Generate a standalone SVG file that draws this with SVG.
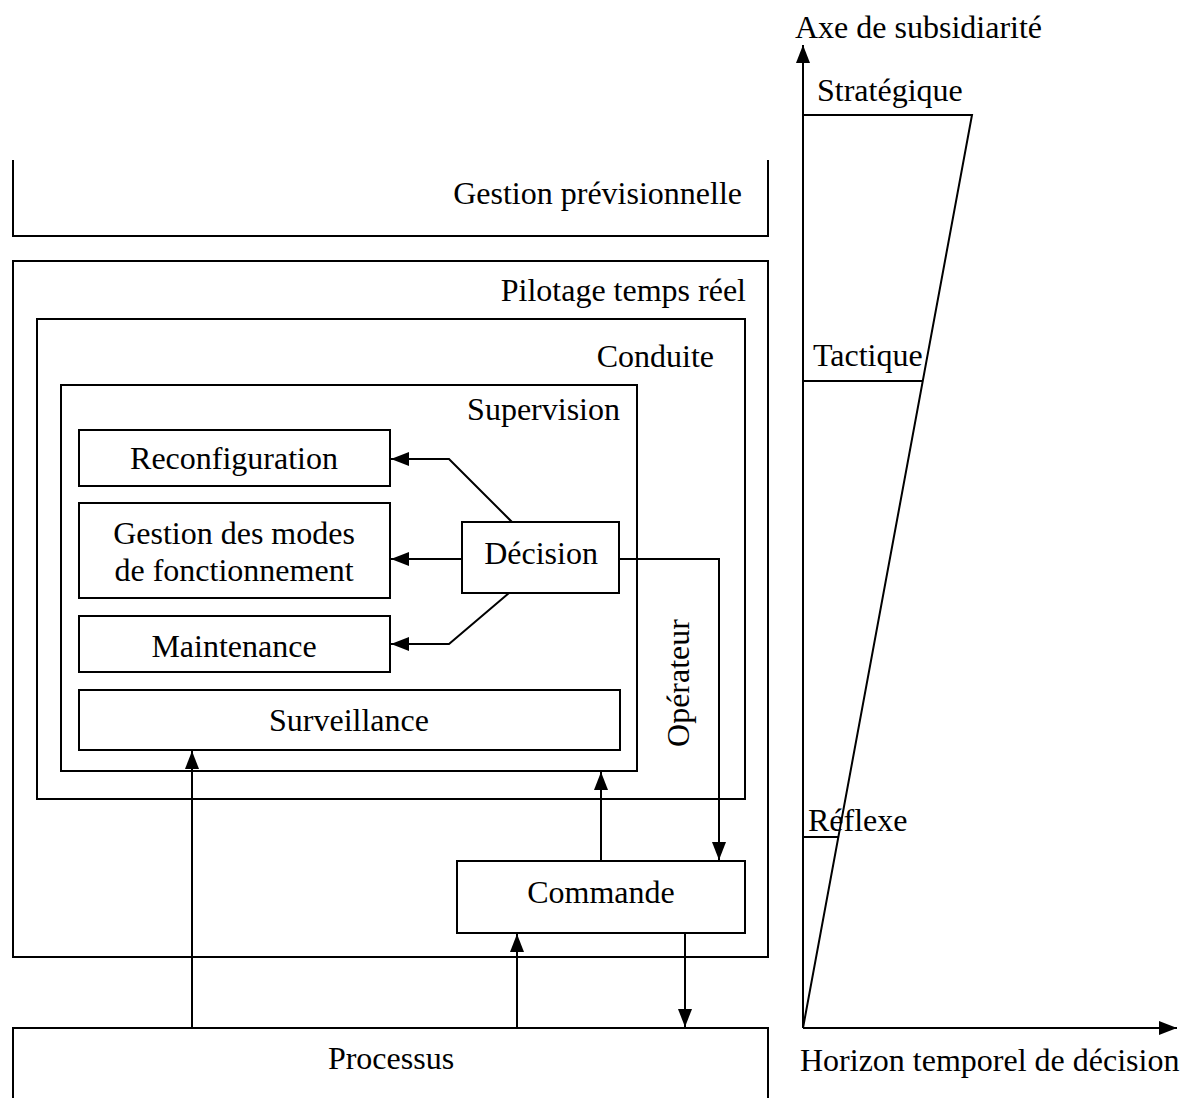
<svg xmlns="http://www.w3.org/2000/svg" width="1188" height="1098" viewBox="0 0 1188 1098">
<defs>
<style>
.b{fill:none;stroke:#000;stroke-width:2}
.l{fill:none;stroke:#000;stroke-width:2}
.t{font-family:"Liberation Serif","Times New Roman",serif;font-size:32px;fill:#000}
.m{text-anchor:middle}
.e{text-anchor:end}
</style>
<marker id="ah2" markerWidth="18" markerHeight="14" viewBox="0 0 18 14" refX="18" refY="7" orient="auto" markerUnits="userSpaceOnUse">
<path d="M0,0 L18,7 L0,14 Z" fill="#000"/>
</marker>
</defs>
<rect width="1188" height="1098" fill="#fff"/>
<g id="gestion-previsionnelle">
<path class="b" d="M13,160 V236 H768 V160"/>
<text class="t e" x="742" y="204">Gestion prévisionnelle</text>
</g>
<g id="pilotage">
<rect class="b" x="13" y="261" width="755" height="696"/>
<text class="t e" x="746" y="301">Pilotage temps réel</text>
</g>
<g id="conduite">
<rect class="b" x="37" y="319" width="708" height="480"/>
<text class="t e" x="714" y="367">Conduite</text>
</g>
<g id="supervision">
<rect class="b" x="61" y="385" width="576" height="386"/>
<text class="t e" x="620" y="420">Supervision</text>
</g>
<g id="reconfiguration">
<rect class="b" x="79" y="430" width="311" height="56"/>
<text class="t m" x="234" y="469">Reconfiguration</text>
</g>
<g id="gestion-modes">
<rect class="b" x="79" y="503" width="311" height="95"/>
<text class="t m" x="234" y="544">Gestion des modes</text>
<text class="t m" x="234" y="581">de fonctionnement</text>
</g>
<g id="maintenance">
<rect class="b" x="79" y="616" width="311" height="56"/>
<text class="t m" x="234" y="657">Maintenance</text>
</g>
<g id="surveillance">
<rect class="b" x="79" y="690" width="541" height="60"/>
<text class="t m" x="349" y="731">Surveillance</text>
</g>
<g id="decision">
<rect class="b" x="462" y="522" width="157" height="71"/>
<text class="t m" x="541" y="564">Décision</text>
</g>
<g id="operateur">
<text class="t m" transform="translate(689,683) rotate(-90)" x="0" y="0">Opérateur</text>
</g>
<g id="commande">
<rect class="b" x="457" y="861" width="288" height="72"/>
<text class="t m" x="601" y="903">Commande</text>
</g>
<g id="processus">
<path class="b" d="M13,1098 V1028 H768 V1098"/>
<text class="t m" x="391" y="1069">Processus</text>
</g>
<g id="connectors">
<path class="l" d="M512,522 L449,459 H391" marker-end="url(#ah2)"/>
<path class="l" d="M462,559 H391" marker-end="url(#ah2)"/>
<path class="l" d="M509,593 L449,644 H391" marker-end="url(#ah2)"/>
<path class="l" d="M619,559 H719 V860" marker-end="url(#ah2)"/>
<path class="l" d="M601,861 V772" marker-end="url(#ah2)"/>
<path class="l" d="M517,1028 V934" marker-end="url(#ah2)"/>
<path class="l" d="M685,933 V1027" marker-end="url(#ah2)"/>
<path class="l" d="M192,1028 V751" marker-end="url(#ah2)"/>
</g>
<g id="axes">
<path class="l" d="M803,1028 V45" marker-end="url(#ah2)"/>
<path class="l" d="M803,1028 H1177" marker-end="url(#ah2)"/>
<path class="l" d="M803,1028 L972,115 H803"/>
<path class="l" d="M803,381 H923"/>
<path class="l" d="M803,837 H838"/>
<text class="t" x="795" y="38">Axe de subsidiarité</text>
<text class="t" x="817" y="101">Stratégique</text>
<text class="t" x="813" y="366">Tactique</text>
<text class="t" x="808" y="831">Réflexe</text>
<text class="t" x="800" y="1071">Horizon temporel de décision</text>
</g>
</svg>
